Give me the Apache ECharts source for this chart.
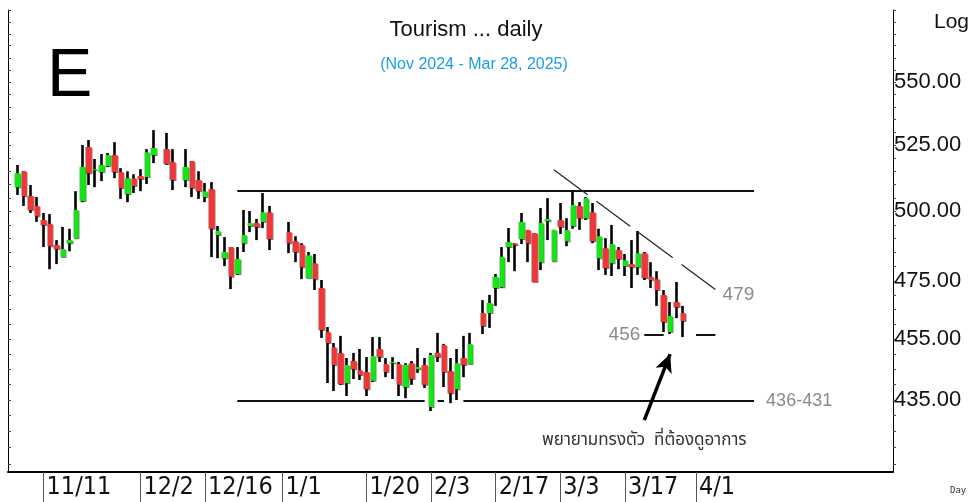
<!DOCTYPE html>
<html>
<head>
<meta charset="utf-8">
<script src="https://cdn.jsdelivr.net/npm/echarts@6/dist/echarts.min.js"></script>
<style>
html, body { margin: 0; padding: 0; background: #fff; }
#chart { width: 973px; height: 502px; }
</style>
</head>
<body>
<div id="chart"></div>
<script>
// weekday axis, holidays left empty
var dates = [
    '11/4', '11/5', '11/6', '11/7', '11/8', '11/11', '11/12', '11/13', '11/14', '11/15',
    '11/18', '11/19', '11/20', '11/21', '11/22', '11/25', '11/26', '11/27', '11/28', '11/29',
    '12/2', '12/3', '12/4', '12/5', '12/6', '12/9', '12/10', '12/11', '12/12', '12/13',
    '12/16', '12/17', '12/18', '12/19', '12/20', '12/23', '12/24', '12/25', '12/26', '12/27',
    '12/30', '12/31', '1/1', '1/2', '1/3', '1/6', '1/7', '1/8', '1/9', '1/10',
    '1/13', '1/14', '1/15', '1/16', '1/17', '1/20', '1/21', '1/22', '1/23', '1/24',
    '1/27', '1/28', '1/29', '1/30', '1/31', '2/3', '2/4', '2/5', '2/6', '2/7',
    '2/10', '2/11', '2/12', '2/13', '2/14', '2/17', '2/18', '2/19', '2/20', '2/21',
    '2/24', '2/25', '2/26', '2/27', '2/28', '3/3', '3/4', '3/5', '3/6', '3/7',
    '3/10', '3/11', '3/12', '3/13', '3/14', '3/17', '3/18', '3/19', '3/20', '3/21',
    '3/24', '3/25', '3/26', '3/27', '3/28', '3/31', '4/1', '4/2', '4/3', '4/4',
    '4/7', '4/8', '4/9', '4/10', '4/11', '4/14', '4/15', '4/16', '4/17', '4/18',
    '4/21', '4/22', '4/23', '4/24', '4/25', '4/28', '4/29', '4/30', '5/1', '5/2',
    '5/5', '5/6', '5/7', '5/8', '5/9', '5/12', '5/13'
];
var tickLabels = ['11/11', '12/2', '12/16', '1/1', '1/20', '2/3', '2/17', '3/3', '3/17', '4/1'];

var opens = [
    null, 509.0, 515.0, 505.7, 502.0, 496.8, 495.4, 487.7, 483.4, 488.4,
    490.2, 503.8, 524.3, 515.4, 514.7, 517.0, 521.2, 514.7, 506.4, 512.4,
    513.2, 512.8, 521.2, null, 523.5, 518.5, null, 511.7, 518.9, 511.7,
    505.3, 508.3, 491.3, 483.0, 487.0, 477.4, 488.4, 494.6, 495.7, 496.1,
    499.7, null, null, 492.4, 489.1, 487.7, 476.0, 481.2, 472.5, 457.4,
    452.3, 450.4, 440.5, 447.7, 444.7, 444.1, 441.2, 451.7, 446.7, 447.0,
    446.7, 439.2, 447.0, 445.0, 446.4, 432.8, 450.4, 453.0, 444.4, 438.5,
    448.7, 446.7, null, 463.9, 463.9, 472.5, 472.8, 487.0, 488.4, 489.9,
    493.2, 492.0, 481.6, 496.4, 481.9, 496.8, 489.1, 494.6, 502.0, 497.5,
    499.7, 483.0, 486.6, 481.2, 485.9, 480.2, 480.9, 479.8, 484.8, 476.4,
    475.6, 470.1, 457.4, 467.6, 463.9
];
var closes = [
    null, 514.3, 505.7, 500.5, 498.2, 495.0, 487.3, 486.3, 486.3, 489.5,
    500.5, 516.6, 514.3, 515.8, 517.4, 521.2, 514.7, 508.7, 512.4, 509.4,
    512.1, 522.3, 523.9, null, 517.8, 511.7, null, 516.6, 508.7, 507.5,
    507.5, 493.6, 492.8, 485.2, 476.4, 482.7, 491.3, 495.7, 494.3, 499.7,
    489.9, null, null, 488.4, 485.2, 479.8, 484.1, 475.6, 458.1, 453.7,
    446.4, 440.2, 446.4, 445.0, 443.1, 438.5, 449.4, 449.0, 444.1, 447.4,
    439.9, 446.4, 441.8, 445.7, 439.9, 449.7, 449.0, 444.1, 437.2, 447.0,
    446.4, 453.4, null, 459.4, 467.3, 476.4, 483.4, 488.8, 487.7, 496.1,
    488.4, 474.6, 495.7, 497.2, 493.2, 494.3, 493.2, 502.3, 497.5, 504.9,
    489.1, 490.9, 479.5, 488.1, 482.7, 482.3, 479.8, 484.8, 476.0, 475.3,
    471.8, 460.8, 462.8, 465.9, 461.1
];
var lows = [
    null, 506.1, 502.0, 499.4, 496.1, 487.0, 479.1, 480.9, 483.4, 485.5,
    490.2, 503.4, 509.8, 509.0, 511.3, 516.6, 512.4, 504.6, 503.4, 506.8,
    507.5, 510.2, 518.1, null, 517.5, 507.9, null, 509.0, 505.3, 504.6,
    503.4, 483.4, 483.0, 480.2, 472.1, 477.1, 485.2, 492.4, 489.5, 493.9,
    485.9, null, null, 484.8, 481.6, 475.6, 476.0, 471.8, 455.4, 440.5,
    437.9, 439.9, 436.3, 441.8, 441.5, 436.3, 440.8, 447.4, 442.4, 441.8,
    436.3, 435.6, 439.9, 443.8, 438.9, 431.5, 447.4, 439.2, 434.0, 435.0,
    442.4, 446.7, null, 456.7, 458.8, 466.3, 472.5, 481.6, 478.4, 488.1,
    481.6, 474.6, 478.8, 489.5, 481.9, 491.7, 487.3, 493.6, 493.2, 496.8,
    488.4, 478.8, 477.1, 476.7, 479.1, 476.7, 472.5, 477.1, 475.3, 472.5,
    466.3, 457.4, 456.7, 462.1, 455.7
];
var highs = [
    null, 517.4, 515.0, 509.8, 505.3, 499.4, 499.0, 489.5, 494.3, 493.6,
    507.5, 525.1, 527.0, 519.7, 521.6, 522.0, 526.2, 516.2, 515.0, 513.9,
    515.8, 523.5, 530.9, null, 529.8, 523.5, null, 523.5, 518.9, 515.0,
    510.6, 510.9, 494.6, 490.6, 487.0, 487.0, 500.5, 500.1, 497.2, 506.8,
    502.0, null, null, 496.1, 490.9, 488.4, 485.2, 484.5, 475.3, 459.1,
    453.7, 456.1, 448.7, 450.4, 451.7, 449.0, 455.7, 455.7, 448.7, 449.0,
    447.4, 447.0, 447.7, 452.0, 448.7, 450.4, 457.1, 453.4, 448.7, 451.7,
    456.1, 457.1, null, 468.3, 470.1, 477.4, 487.0, 493.9, 488.4, 499.4,
    493.2, 492.0, 501.2, 504.9, 493.2, 503.1, 497.5, 507.9, 503.4, 505.3,
    503.1, 493.6, 490.2, 495.0, 487.0, 484.5, 489.5, 492.8, 485.2, 481.6,
    478.4, 471.8, 467.6, 474.6, 466.3
];

var yLabels = [435, 455, 475, 500, 525, 550];
var yTicks = [415, 420, 425, 430, 435, 440, 445, 450, 455, 460, 465, 470, 475, 480, 485,
    490, 495, 500, 505, 510, 515, 520, 525, 530, 535, 540, 545, 550, 555, 560, 565, 570, 575, 580];

// drawn lines: [date, price] pairs
var resistance = [['12/23', 507.6], ['4/14', 507.6]];
var support = [
    [['12/23', 434.8], ['1/31', 434.8]],
    [['2/4', 434.8], ['2/5', 434.8]],
    [['2/10', 434.8], ['4/14', 434.8]]
];
var trend = [['2/28', 515.6], ['4/4', 472.0]];
var floor456 = [
    [['3/20', 456.4], ['3/25', 456.4]],
    [['4/1', 456.4], ['4/4', 456.4]]
];
var arrow = [['3/20', 428.6], ['3/26', 450.0]];
var note = ['3/20', 422.0];

var candles = [];
for (var i = 0; i < opens.length; i++) {
    if (opens[i] == null) {
        candles.push(['-', '-', '-', '-']);
    } else {
        candles.push([opens[i], closes[i], lows[i], highs[i]]);
    }
}

function pt(p) {
    return [dates.indexOf(p[0]), p[1]];
}

var grey = '#8a8a8a';
var solid = { color: '#111', width: 2, type: 'solid' };
var markLines = [];
markLines.push([{ coord: pt(resistance[0]), lineStyle: solid }, { coord: pt(resistance[1]) }]);
support.forEach(function (s, k) {
    var item = { coord: pt(s[0]), lineStyle: solid };
    if (k === support.length - 1) {
        item.label = { show: true, position: 'end', distance: 12, formatter: '436-431', color: grey, fontSize: 18 };
    }
    markLines.push([item, { coord: pt(s[1]) }]);
});
markLines.push([{
    coord: pt(trend[0]), lineStyle: { color: '#222', width: 1.2, type: [42, 11] },
    label: { show: true, position: 'end', distance: 9, formatter: '479', color: grey, fontSize: 19 }
}, { coord: pt(trend[1]) }]);
floor456.forEach(function (s, k) {
    var item = { coord: pt(s[0]), lineStyle: solid };
    if (k === 0) {
        item.label = { show: true, position: 'start', distance: 4, formatter: '456', color: grey, fontSize: 19 };
    }
    markLines.push([item, { coord: pt(s[1]) }]);
});
markLines.push([{ coord: pt(arrow[0]), lineStyle: { color: '#000', width: 3.5, type: 'solid' } },
    { coord: pt(arrow[1]), symbol: 'arrow', symbolSize: [13, 18] }]);

var labelFont = "'Liberation Sans', Arial, sans-serif";
var chart = echarts.init(document.getElementById('chart'));
chart.setOption({
    animation: false,
    backgroundColor: '#fff',
    grid: { left: 8, right: 80, top: 10, bottom: 30, containLabel: false, outerBoundsMode: 'none' },
    xAxis: {
        type: 'category',
        data: dates,
        boundaryGap: true,
        axisLine: { lineStyle: { color: '#000', width: 2 } },
        axisTick: {
            show: true,
            alignWithLabel: true,
            length: 30,
            interval: function (idx, val) { return tickLabels.indexOf(val) >= 0; },
            lineStyle: { color: '#555', width: 1 }
        },
        axisLabel: {
            interval: function (idx, val) { return tickLabels.indexOf(val) >= 0; },
            align: 'left',
            margin: 3,
            padding: [0, 0, 0, 3],
            fontSize: 25,
            color: '#111',
            fontFamily: "'Liberation Sans Narrow', 'DejaVu Sans Condensed', sans-serif"
        },
        splitLine: { show: false }
    },
    yAxis: [{
        type: 'log',
        position: 'right',
        min: 412.5,
        max: 580.1,
        axisLine: { show: true, lineStyle: { color: '#000', width: 1 } },
        axisTick: { show: true, customValues: yTicks, length: 3, lineStyle: { color: '#444' } },
        axisLabel: {
            customValues: yLabels,
            formatter: function (v) { return Number(v).toFixed(2); },
            margin: 1,
            fontSize: 22,
            color: '#111',
            fontFamily: labelFont
        },
        splitLine: { show: false }
    }, {
        type: 'log',
        position: 'left',
        min: 412.5,
        max: 580.1,
        axisLine: { show: true, lineStyle: { color: '#000', width: 1 } },
        axisTick: { show: true, inside: true, customValues: yTicks, length: 3, lineStyle: { color: '#444' } },
        axisLabel: { show: false },
        splitLine: { show: false }
    }],
    graphic: [
        { type: 'text', x: 466, y: 30, style: { text: 'Tourism ... daily', fontSize: 22, fontFamily: labelFont, fill: '#111', align: 'center', verticalAlign: 'middle' } },
        { type: 'text', x: 474, y: 65, style: { text: '(Nov 2024 - Mar 28, 2025)', fontSize: 16, fontFamily: labelFont, fill: '#1a9ee6', align: 'center', verticalAlign: 'middle' } },
        { type: 'text', x: 47, y: 77, style: { text: 'E', fontSize: 68, fontFamily: labelFont, fill: '#000', align: 'left', verticalAlign: 'middle' } },
        { type: 'text', x: 934, y: 22, style: { text: 'Log', fontSize: 21, fontFamily: labelFont, fill: '#111', align: 'left', verticalAlign: 'middle' } },
        { type: 'text', x: 950, y: 491, style: { text: 'Day', fontSize: 9, fontFamily: "'DejaVu Sans Mono', monospace", fill: '#333', align: 'left', verticalAlign: 'middle' } }
    ],
    series: [{
        // black wicks
        type: 'candlestick',
        data: candles,
        barWidth: 1,
        itemStyle: { color: '#000', color0: '#000', borderColor: '#000', borderColor0: '#000', borderWidth: 2.6 }
    }, {
        // coloured bodies
        type: 'candlestick',
        data: candles,
        barWidth: 6,
        itemStyle: {
            color: '#14e614', color0: '#f03636', borderWidth: 0,
            shadowColor: 'rgba(0,0,0,0.5)', shadowOffsetX: 1, shadowOffsetY: 1, shadowBlur: 0
        },
        markLine: {
            silent: true,
            symbol: 'none',
            lineStyle: { type: 'solid' },
            label: { show: false },
            emphasis: { disabled: true },
            data: markLines
        },
        markPoint: {
            silent: true,
            symbol: 'circle',
            symbolSize: 0,
            data: [{
                coord: pt(note),
                label: {
                    show: true, position: 'inside', formatter: 'พยายามทรงตัว  ที่ต้องดูอาการ',
                    fontSize: 17, color: '#333',
                    fontFamily: "'Noto Sans Thai', Tahoma, 'Noto Sans', 'DejaVu Sans', sans-serif"
                }
            }]
        }
    }]
});
</script>
</body>
</html>
